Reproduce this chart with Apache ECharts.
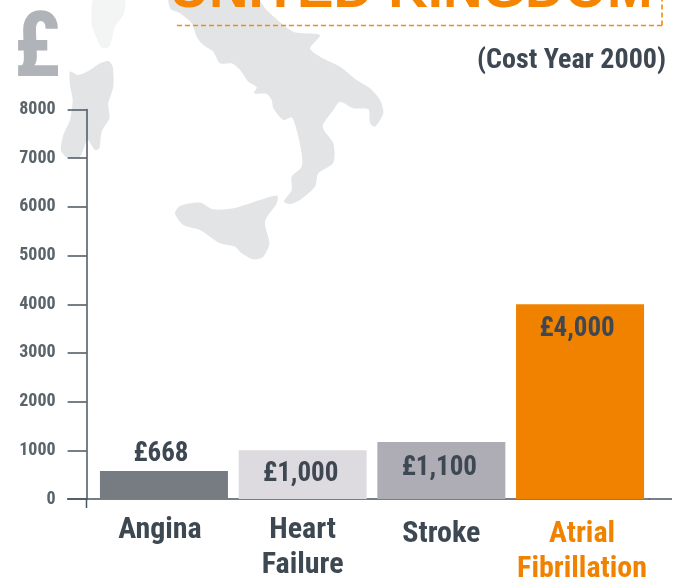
<!DOCTYPE html>
<html><head><meta charset="utf-8">
<style>html,body{margin:0;padding:0;background:#fff}#c{width:681px;height:581px}</style>
<script src="https://cdn.jsdelivr.net/npm/echarts@6/dist/echarts.min.js"></script>
</head><body><div id="c"></div>
<script>
const categories = ['Angina', 'Heart\nFailure', 'Stroke', 'Atrial\nFibrillation'];
const barValues = [575, 1000, 1170, 4000];
const valueLabels = ['£668', '£1,000', '£1,100', '£4,000'];
const barColors = ['#777b82', '#dddbdf', '#aeacb5', '#f08200'];

const NARROW = '"Roboto Condensed","Liberation Sans",sans-serif';
const DARK = '#3e4853';

// decorative background map outlines (3x crop coordinates)
const scale3 = p => p.map(([x, y]) => [x / 3, y / 3]);
const italy = scale3([[510,-30],[510,25],[540,40],[575,70],[590,110],[610,135],[640,155],[660,190],[695,190],[720,210],[745,245],[770,262],[762,280],[800,282],[815,300],[820,325],[850,360],[875,352],[890,390],[905,460],[905,500],[875,530],[875,570],[852,605],[870,612],[900,600],[945,560],[955,520],[1000,488],[1000,430],[968,380],[1000,330],[1020,305],[1060,325],[1105,328],[1110,370],[1125,380],[1150,340],[1140,300],[1110,265],[1070,240],[1020,200],[960,170],[930,145],[960,105],[880,95],[800,30],[750,-30]]);
const sicily = scale3([[525,640],[540,618],[600,608],[640,628],[700,625],[780,600],[832,587],[830,610],[795,665],[808,730],[790,770],[760,778],[725,760],[705,740],[660,730],[600,690],[550,675]]);
const sardinia = scale3([[210,215],[235,225],[270,210],[300,190],[325,183],[338,200],[340,260],[325,310],[328,355],[305,395],[298,445],[285,450],[262,420],[240,470],[200,472],[183,450],[190,405],[210,360],[218,300],[210,255]]);
const corsica = scale3([[285,-20],[372,-20],[372,40],[345,80],[328,140],[305,143],[290,115],[275,70]]);

const land = (points, fill) => ({type:'polygon', z:-1, silent:true, shape:{points, smooth:0.25}, style:{fill}});
const rule = (x1,y1,x2,y2,extra) => ({type:'line', z:1, silent:true, shape:{x1,y1,x2,y2}, style:Object.assign({stroke:'#4a5560', lineWidth:1.5}, extra||{})});

const labelFont = {fontFamily:NARROW, fontWeight:'bold', fontSize:30, lineHeight:35};
const chart = echarts.init(document.getElementById('c'), null, {renderer:'canvas'});
chart.setOption({
  animation:false,
  backgroundColor:'#fff',
  grid:{left:94.6, right:31.6, top:109.5, bottom:82, outerBoundsMode:'none'},
  xAxis:{
    type:'category', data:categories,
    axisLine:{show:true, lineStyle:{color:'#4a5560', width:1.5}},
    axisTick:{show:false},
    axisLabel:{
      margin:14, interval:0,
      formatter:(v,i)=>{
        const k=['a','b','c','d'][i];
        return v.split('\n').map(s=>'{'+k+'|'+s+'}').join('\n');
      },
      rich:{
        a:Object.assign({color:DARK,padding:[0,8,0,0]},labelFont),
        b:Object.assign({color:DARK},labelFont),
        c:Object.assign({color:DARK,padding:[8,0,0,0]},labelFont),
        d:Object.assign({color:'#f08200',padding:[8,0,0,4]},labelFont)
      }
    }
  },
  yAxis:{
    type:'value', min:0, max:8000, interval:1000, offset:8,
    splitLine:{show:false},
    axisLine:{show:true, lineStyle:{color:'#4a5560', width:1.5}},
    axisTick:{show:true, length:19, lineStyle:{color:'#4a5560', width:1.5}},
    axisLabel:{margin:31, padding:[3,0,0,0], fontFamily:NARROW, fontWeight:'bold', fontSize:18, color:'#5a646b', formatter:v=>String(v)}
  },
  series:[{
    type:'bar', barWidth:128, z:2,
    data:barValues.map((value,i)=>({
      value,
      itemStyle:{color:barColors[i]},
      label:{
        show:true,
        position:i===0?'top':'insideTop',
        distance:[3,10.5,12.5,11.5][i],
        offset:[[-3,0],[-2,0],[-2,0],[-3,0]][i],
        formatter:valueLabels[i],
        fontFamily:NARROW, fontWeight:'bold', fontSize:27, color:DARK
      }
    }))
  }],
  graphic:[
    land(corsica,'#f3f4f4'), land(sardinia,'#e3e4e6'), land(italy,'#e3e4e6'), land(sicily,'#e3e4e6'),
    rule(86.5,499,86.5,508),
    rule(67,499,94.6,499),
    rule(649,499,672,499),
    rule(177,25.5,662,25.5,{stroke:'#f58a12',lineDash:[5,3],lineWidth:1.6}),
    rule(662,25.5,662,0,{stroke:'#f58a12',lineDash:[5,3],lineWidth:1.6}),
    {type:'text', z:3, silent:true, style:{x:411, y:-8, text:'UNITED KINGDOM', align:'center', verticalAlign:'middle', fontFamily:'"Liberation Sans",sans-serif', fontWeight:'bold', fontSize:54.7, fill:'#f58400'}},
    {type:'text', z:3, silent:true, style:{x:666, y:60.5, text:'(Cost Year 2000)', align:'right', verticalAlign:'middle', fontFamily:NARROW, fontWeight:'bold', fontSize:28, fill:DARK}},
    {type:'text', z:3, silent:true, style:{x:37, y:53, text:'£', align:'center', verticalAlign:'middle', fontFamily:NARROW, fontWeight:'bold', fontSize:90, fill:'#b0b3b8'}}
  ]
});
</script></body></html>
